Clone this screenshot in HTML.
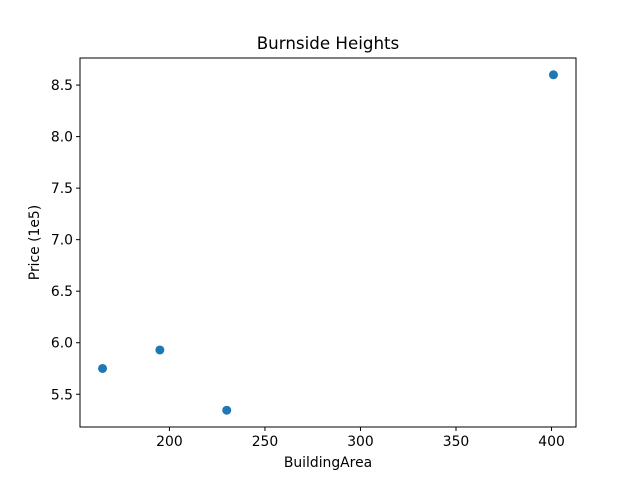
<!DOCTYPE html>
<html><head><meta charset="utf-8"><style>body{margin:0;background:#fff}svg{display:block;font-family:"DejaVu Sans","Liberation Sans",sans-serif}</style></head>
<body>
<svg id="chart" width="640" height="480">
<rect x="0" y="0" width="640" height="480" fill="#fff"/>
<text x="328" y="49" text-anchor="middle" font-size="16.7" fill="#000">Burnside Heights</text>
<g id="marks"></g>
<g id="axes"></g>
<rect x="80" y="58" width="496" height="369" fill="none" stroke="#000" stroke-width="1"/>
<text x="328" y="467" text-anchor="middle" font-size="13.9">BuildingArea</text>
<text transform="translate(39,242.5) rotate(-90)" text-anchor="middle" font-size="13.9">Price (1e5)</text>
</svg>
<script>
const areas = [165, 195, 230, 401];
const prices = [5.75, 5.93, 5.345, 8.6];
const xTicks = [200, 250, 300, 350, 400];
const yTicks = [5.5, 6.0, 6.5, 7.0, 7.5, 8.0, 8.5];
const NS = "http://www.w3.org/2000/svg";
const L = 80, R = 576, T = 58, B = 427;
const xmin0 = Math.min(...areas), xmax0 = Math.max(...areas);
const ymin0 = Math.min(...prices), ymax0 = Math.max(...prices);
const xpad = (xmax0 - xmin0) * 0.05, ypad = (ymax0 - ymin0) * 0.05;
const xmin = xmin0 - xpad, xmax = xmax0 + xpad, ymin = ymin0 - ypad, ymax = ymax0 + ypad;
function sx(v){return L + (v - xmin) / (xmax - xmin) * (R - L);}
function sy(v){return B - (v - ymin) / (ymax - ymin) * (B - T);}
const axes = document.getElementById('axes');
const marks = document.getElementById('marks');
function mk(tag, attrs, parent){const e=document.createElementNS(NS,tag);for(const k in attrs)e.setAttribute(k,attrs[k]);parent.appendChild(e);return e;}
xTicks.forEach(t=>{
  const x=sx(t);
  const l=mk('line',{x1:x,x2:x,y1:B,y2:B+4,stroke:'#000'},axes);
  
  
  const tx=mk('text',{x:x,y:B+19,'text-anchor':'middle','font-size':'13.9'},axes);
  tx.textContent=String(t);
  
  
});
yTicks.forEach(t=>{
  const y=sy(t);
  const l=mk('line',{x1:L-4,x2:L,y1:y,y2:y,stroke:'#000'},axes);
  
  
  const tx=mk('text',{x:L-7,y:y+5,'text-anchor':'end','font-size':'13.9'},axes);
  tx.textContent=t.toFixed(1);
  
  
});
areas.forEach((a,i)=>{
  const c=mk('circle',{cx:sx(a),cy:sy(prices[i]),r:4.5,fill:'#1f77b4'},marks);
  
  
});
</script>
</body></html>
